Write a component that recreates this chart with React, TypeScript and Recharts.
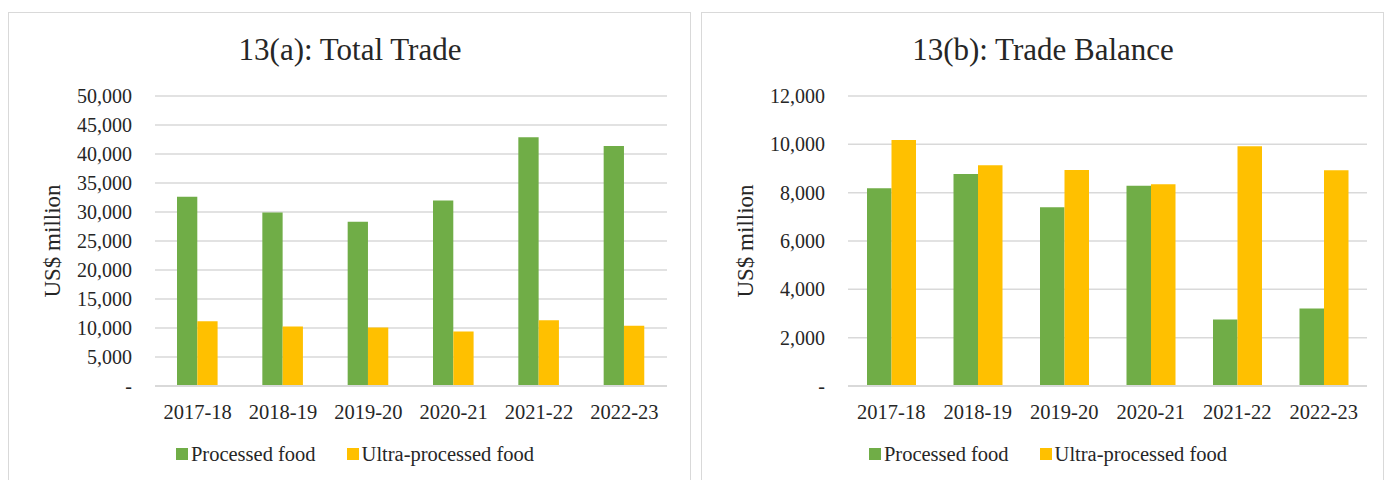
import { BarChart, Bar, XAxis, YAxis, CartesianGrid, Legend } from "recharts";

const years = ["2017-18", "2018-19", "2019-20", "2020-21", "2021-22", "2022-23"];

// 13(a) total trade, US$ million
const tradeProcessed = [32650, 29900, 28300, 32000, 42900, 41400];
const tradeUltra = [11150, 10250, 10100, 9400, 11350, 10400];

// 13(b) trade balance, US$ million
const balanceProcessed = [8180, 8770, 7400, 8290, 2750, 3210];
const balanceUltra = [10180, 9130, 8940, 8350, 9920, 8930];

const tradeTicks = [0, 5000, 10000, 15000, 20000, 25000, 30000, 35000, 40000, 45000, 50000];
const balanceTicks = [0, 2000, 4000, 6000, 8000, 10000, 12000];

const seriesNames = ["Processed food", "Ultra-processed food"];
const GREEN = "#70ad47";
const YELLOW = "#ffc000";
const FONT = "'Liberation Serif', 'Times New Roman', serif";
const TEXT = "#262626";
const GRID = "#d9d9d9";

const fmt = (v: number) => (v === 0 ? "-" : v.toLocaleString("en-US"));

const LegendRow = () => (
  <div
    style={{
      display: "flex",
      justifyContent: "center",
      alignItems: "center",
      fontFamily: FONT,
      fontSize: 20.5,
      lineHeight: "20px",
      color: TEXT,
    }}
  >
    {seriesNames.map((name, i) => (
      <div key={name} style={{ display: "flex", alignItems: "center", marginLeft: i ? 31 : 0 }}>
        <span
          style={{
            display: "inline-block",
            width: 12,
            height: 12,
            background: i ? YELLOW : GREEN,
            marginRight: 3,
          }}
        />
        <span>{name}</span>
      </div>
    ))}
  </div>
);

const yLabel = (x: number, y: number) => () => (
  <text
    x={x}
    y={y}
    transform={`rotate(-90 ${x} ${y})`}
    textAnchor="middle"
    dominantBaseline="central"
    fontFamily={FONT}
    fontSize={23}
    fill={TEXT}
  >
    US$ million
  </text>
);

function Panel({
  left,
  title,
  processed,
  ultra,
  ticks,
  max,
  yWidth,
  rightMargin,
  barSize,
}: {
  left: number;
  title: string;
  processed: number[];
  ultra: number[];
  ticks: number[];
  max: number;
  yWidth: number;
  rightMargin: number;
  barSize: number;
}) {
  const data = years.map((year, i) => ({
    year,
    processed: processed[i],
    ultra: ultra[i],
  }));
  const W = 692;
  return (
    <div style={{ position: "absolute", left, top: 0, width: W, height: 480 }}>
      <div
        style={{
          position: "absolute",
          left: 8,
          top: 12,
          width: 683,
          height: 500,
          border: `1px solid ${GRID}`,
          boxSizing: "border-box",
        }}
      />
      <div
        style={{
          position: "absolute",
          left: 8,
          top: 34,
          width: 684,
          textAlign: "center",
          fontFamily: FONT,
          fontSize: 31,
          lineHeight: "31px",
          color: TEXT,
        }}
      >
        {title}
      </div>
      <div style={{ position: "absolute", left: 0, top: 0 }}>
        <BarChart
          width={W}
          height={480}
          data={data}
          margin={{ top: 96, right: rightMargin, bottom: 64, left: 0 }}
          barGap={0}
        >
          <CartesianGrid horizontal vertical={false} stroke={GRID} strokeWidth={1.5} />
          <XAxis
            dataKey="year"
            height={30}
            tickSize={0}
            tickMargin={18}
            axisLine={{ stroke: GRID, strokeWidth: 2 }}
            tickLine={false}
            tick={{ fontFamily: FONT, fontSize: 20.5, fill: TEXT }}
            interval={0}
          />
          <YAxis
            width={yWidth}
            domain={[0, max]}
            ticks={ticks}
            tickFormatter={fmt}
            tickSize={0}
            tickMargin={23}
            axisLine={false}
            tickLine={false}
            tick={{ fontFamily: FONT, fontSize: 20, fill: TEXT }}
            label={yLabel(52, 241)}
          />
          <Legend
            layout="horizontal"
            verticalAlign="middle"
            align="center"
            wrapperStyle={{ top: 444, left: 8, width: 694 }}
            content={() => <LegendRow />}
          />
          <Bar dataKey="processed" name={seriesNames[0]} fill={GREEN} barSize={barSize} isAnimationActive={false} />
          <Bar dataKey="ultra" name={seriesNames[1]} fill={YELLOW} barSize={barSize} isAnimationActive={false} />
        </BarChart>
      </div>
    </div>
  );
}

export default function App() {
  return (
    <div style={{ position: "absolute", left: 0, top: 0, width: 1384, height: 480, overflow: "hidden", background: "#fff" }}>
      <Panel
        left={0}
        title="13(a): Total Trade"
        processed={tradeProcessed}
        ultra={tradeUltra}
        ticks={tradeTicks}
        max={50000}
        yWidth={155}
        rightMargin={25}
        barSize={20.3}
      />
      <Panel
        left={693}
        title="13(b): Trade Balance"
        processed={balanceProcessed}
        ultra={balanceUltra}
        ticks={balanceTicks}
        max={12000}
        yWidth={155}
        rightMargin={18}
        barSize={24.5}
      />
    </div>
  );
}
